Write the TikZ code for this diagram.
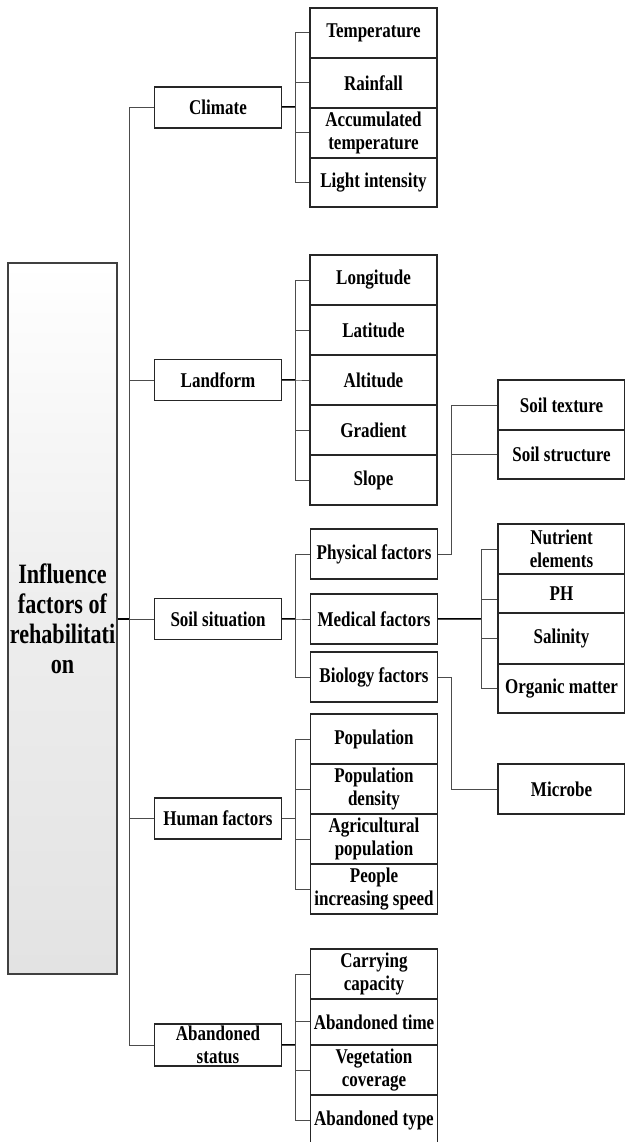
\documentclass[tikz,border=0pt]{standalone}
\usepackage{fontspec}
\newfontfamily\tnr[FakeStretch=0.81]{Liberation Serif}
\newfontfamily\tnrr[FakeStretch=0.79]{Liberation Serif}
\begin{document}
\begin{tikzpicture}[x=1pt,y=-1pt,
  box/.style={draw=black!85, line width=1.1pt, fill=white, inner sep=0pt, align=center,
    font={\tnr\bfseries\fontsize{21}{23.5}\selectfont}, minimum width=127pt, minimum height=50pt},
  lvl/.style={box, minimum height=41pt},
  conn/.style={draw=black!70, line width=1pt},
  thk/.style={draw=black, line width=2pt}]
\useasboundingbox (0,0) rectangle (624,1142);

% root
\node[draw=black!75, line width=1.3pt, top color=white, bottom color=black!11, middle color=black!7,
  minimum width=109pt, minimum height=711pt, inner sep=0pt, align=center,
  font={\tnrr\bfseries\fontsize{28}{30}\selectfont}] (root) at (62.5,618.5)
  {Influence\\factors of\\rehabilitati\\on};
\coordinate (trunk) at (129,618.5);

% level 1
\node[lvl] (clim) at (218,107.5) {Climate};
\node[lvl] (land) at (218,380) {Landform};
\node[lvl] (soil) at (218,619) {Soil situation};
\node[lvl] (hum)  at (218,818.5) {Human factors};
\node[lvl, minimum height=42pt] (aban) at (218,1045) {Abandoned\\status};

% climate children
\node[box] (temp) at (373.5,33) {Temperature};
\node[box] (rain) at (373.5,83) {Rainfall};
\node[box] (accu) at (373.5,133) {Accumulated\\temperature};
\node[box, minimum height=49pt] (ligh) at (373.5,182.5) {Light intensity};

% landform children
\node[box] (lon) at (373.5,280) {Longitude};
\node[box] (lat) at (373.5,330) {Latitude};
\node[box] (alt) at (373.5,380) {Altitude};
\node[box] (gra) at (373.5,430) {Gradient};
\node[box] (slo) at (373.5,480) {Slope};

% soil children
\node[box] (phys) at (374,554) {Physical factors};
\node[box] (med)  at (374,619) {Medical factors};
\node[box] (bio)  at (374,677) {Biology factors};

\node[box] (tex) at (561.5,405) {Soil texture};
\node[box, minimum height=49pt] (str) at (561.5,454.5) {Soil structure};

\node[box] (nut) at (561.5,549) {Nutrient\\elements};
\node[box, minimum height=39pt] (ph) at (561.5,593.5) {PH};
\node[box, minimum height=51pt] (sal) at (561.5,638.5) {Salinity};
\node[box, minimum height=49pt] (org) at (561.5,688.5) {Organic matter};

\node[box] (mic) at (561.5,789) {Microbe};

% human children
\node[box] (pop) at (374,739) {Population};
\node[box] (pden) at (374,789) {Population\\density};
\node[box] (agr) at (374,839) {Agricultural\\population};
\node[box] (peo) at (374,889) {People\\increasing speed};

% abandoned children
\node[box] (car) at (374,974) {Carrying\\capacity};
\node[box, minimum height=46pt] (atim) at (374,1022) {Abandoned time};
\node[box] (veg) at (374,1070) {Vegetation\\coverage};
\node[box] (atyp) at (374,1120) {Abandoned type};

% connectors: root and trunk
\draw[thk] (root.east) -- (trunk);
\foreach \n in {clim,land,soil,hum,aban} \draw[conn] (trunk) |- (\n.west);

% climate
\draw[thk] (clim.east) -- ++(13,0);
\foreach \n in {temp,rain,accu,ligh} \draw[conn] (clim.east) -- ++(13,0) |- (\n.west);
% landform
\draw[thk] (land.east) -- ++(13,0);
\foreach \n in {lon,lat,alt,gra,slo} \draw[conn] (land.east) -- ++(13,0) |- (\n.west);
% soil
\draw[thk] (soil.east) -- ++(13,0);
\foreach \n in {phys,med,bio} \draw[conn] (soil.east) -- ++(13,0) |- (\n.west);
\foreach \n in {tex,str} \draw[conn] (phys.east) -- ++(13,0) |- (\n.west);
\draw[thk] (med.east) -- ++(43,0);
\draw[conn] (med.east) -- ++(43,0) |- (nut.west);
\draw[conn] (med.east) -- ++(43,0) |- ([yshift=-5.5pt]ph.west);
\draw[conn] (med.east) -- ++(43,0) |- (sal.west);
\draw[conn] (med.east) -- ++(43,0) |- (org.west);
\draw[conn] (bio.east) -- ++(13,0) |- (mic.west);
% human
\foreach \n in {pop,pden,agr,peo} \draw[conn] (hum.east) -- ++(13,0) |- (\n.west);
% abandoned
\draw[thk] (aban.east) -- ++(13,0);
\draw[conn] (aban.east) -- ++(13,0) |- (car.west);
\draw[conn] (aban.east) -- ++(13,0) |- ([yshift=1pt]atim.west);
\draw[conn] (aban.east) -- ++(13,0) |- (veg.west);
\draw[conn] (aban.east) -- ++(13,0) |- (atyp.west);
\end{tikzpicture}
\end{document}
